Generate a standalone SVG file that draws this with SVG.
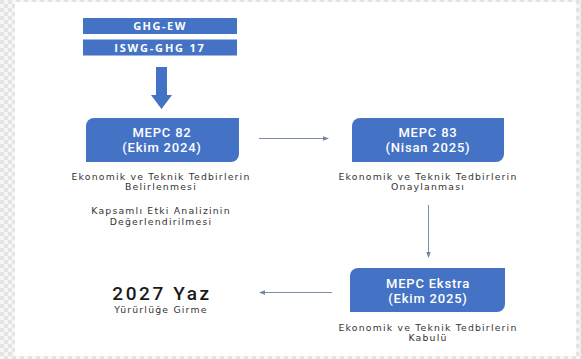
<svg xmlns="http://www.w3.org/2000/svg" width="581" height="359" viewBox="0 0 581 359">
<defs>
<pattern id="chk" width="8" height="8" patternUnits="userSpaceOnUse">
<rect width="8" height="8" fill="#f6f6f6"/>
<rect width="4" height="4" fill="#e4e4e4"/>
<rect x="4" y="4" width="4" height="4" fill="#e4e4e4"/>
</pattern>
<marker id="ah" viewBox="0 0 6 6" refX="5" refY="3" markerWidth="6" markerHeight="6" markerUnits="userSpaceOnUse" orient="auto">
<path d="M0,0.8 L6,3 L0,5.2 Z" fill="#6f84a6"/>
</marker>
<style>
.box{fill:#4472c4}
.bt{font-family:Roboto,"Liberation Sans",sans-serif;font-weight:500;fill:#ffffff;text-anchor:middle;font-size:13px;letter-spacing:0.8px}
.st{font-family:"DejaVu Sans","Liberation Sans",sans-serif;font-size:9.3px;fill:#333333;text-anchor:middle;letter-spacing:1.2px}
.conn{stroke:#7d8fae;stroke-width:1;fill:none;marker-end:url(#ah)}
</style>
</defs>
<rect width="581" height="359" fill="url(#chk)"/>
<rect x="15" y="2" width="561" height="354" fill="#ffffff"/>

<g id="ghg-ew">
<rect class="box" x="83" y="18" width="154" height="16"/>
<text x="160" y="29.5" font-family="Open Sans,Liberation Sans,sans-serif" font-size="11" font-weight="700" fill="#ffffff" text-anchor="middle" letter-spacing="1.5">GHG-EW</text>
</g>
<g id="iswg-ghg">
<rect class="box" x="83" y="39.5" width="154" height="16"/>
<text x="160" y="51.5" font-family="Open Sans,Liberation Sans,sans-serif" font-size="11" font-weight="700" fill="#ffffff" text-anchor="middle" letter-spacing="1.8">ISWG-GHG 17</text>
</g>

<g id="mepc82">
<path class="box" d="M94,118 H239 V154 A8,8 0 0 1 231,162 H86 V126 A8,8 0 0 1 94,118 Z"/>
<text class="bt" x="162" y="137">MEPC 82</text>
<text class="bt" x="162" y="152">(Ekim 2024)</text>
</g>
<g id="mepc82-desc">
<text class="st" x="161" y="180">Ekonomik ve Teknik Tedbirlerin</text>
<text class="st" x="161" y="190">Belirlenmesi</text>
<text class="st" x="161" y="214">Kapsamlı Etki Analizinin</text>
<text class="st" x="161" y="225">Değerlendirilmesi</text>
</g>

<g id="mepc83">
<path class="box" d="M360,118 H504 V154 A8,8 0 0 1 496,162 H352 V126 A8,8 0 0 1 360,118 Z"/>
<text class="bt" x="428" y="137">MEPC 83</text>
<text class="bt" x="428" y="152">(Nisan 2025)</text>
</g>
<g id="mepc83-desc">
<text class="st" x="428" y="180">Ekonomik ve Teknik Tedbirlerin</text>
<text class="st" x="428" y="190">Onaylanması</text>
</g>

<g id="mepc-ekstra">
<path class="box" d="M358,268 H505 V304 A8,8 0 0 1 497,312 H350 V276 A8,8 0 0 1 358,268 Z"/>
<text class="bt" x="428" y="288">MEPC Ekstra</text>
<text class="bt" x="428" y="303">(Ekim 2025)</text>
</g>
<g id="mepc-ekstra-desc">
<text class="st" x="428" y="331">Ekonomik ve Teknik Tedbirlerin</text>
<text class="st" x="428" y="341">Kabulü</text>
</g>

<g id="yaz2027">
<text x="162" y="299.5" font-family="Roboto,Liberation Sans,sans-serif" font-size="19" font-weight="500" fill="#1a1a1a" text-anchor="middle" letter-spacing="2.6">2027 Yaz</text>
<text class="st" x="161" y="313">Yürürlüğe Girme</text>
</g>

<g id="connectors">
<path d="M156,67 H167 V95 H172 L161.5,109 L151,95 H156 Z" fill="#4472c4"/>
<line class="conn" x1="259" y1="138.5" x2="328" y2="138.5"/>
<line class="conn" x1="428.5" y1="205" x2="428.5" y2="257"/>
<line class="conn" x1="332" y1="292.5" x2="260" y2="292.5"/>
</g>
</svg>
